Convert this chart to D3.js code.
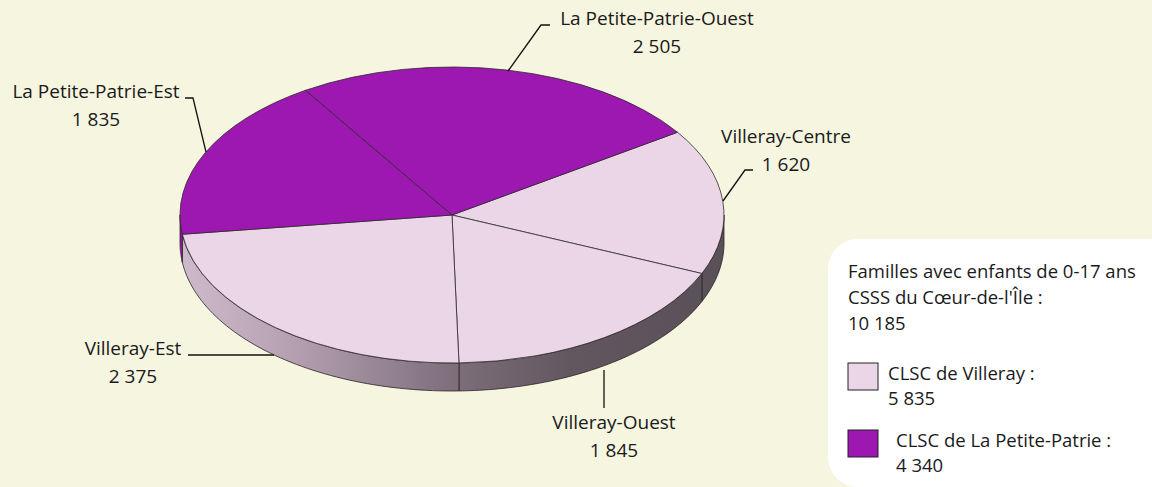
<!DOCTYPE html>
<html>
<head>
<meta charset="utf-8">
<script src="https://cdn.jsdelivr.net/npm/d3@7"></script>
<style>
  html, body { margin: 0; padding: 0; background: #f5f5e0; }
  svg { display: block; }
  text { font-family: "Open Sans", Lato, sans-serif; font-size: 19px; fill: #1a1a1a; }
  .leg text { font-size: 18.5px; }
</style>
</head>
<body>
<div id="chart"></div>
<script>
// Data
const sectors = ['Villeray-Centre', 'Villeray-Ouest', 'Villeray-Est', 'La Petite-Patrie-Est', 'La Petite-Patrie-Ouest'];
const sectorValues = [1620, 1845, 2375, 1835, 2505];
const sectorGroup = ['villeray', 'villeray', 'villeray', 'lpp', 'lpp'];
const legendTitle = ['Familles avec enfants de 0-17 ans', "CSSS du Cœur-de-l'Île :", '10 185'];
const legendGroups = ['villeray', 'lpp'];
const legendNames = ['CLSC de Villeray :', 'CLSC de La Petite-Patrie :'];
const legendValues = ['5 835', '4 340'];

const W = 1152, H = 487;
const CX = 452, CY = 215, RX = 272, RY = 148, DEPTH = 28;
const START = 56 * Math.PI / 180;

const topColor = { villeray: '#ebd6e7', lpp: '#9c18b0' };
const fmt = v => d3.format(',')(v).replace(/,/g, ' ');

const svg = d3.select('#chart').append('svg')
  .attr('width', W).attr('height', H);

svg.append('rect').attr('width', W).attr('height', H).attr('fill', '#f5f5e0');

// gradients for the side wall
const defs = svg.append('defs');
const gPink = defs.append('linearGradient').attr('id', 'sidePink')
  .attr('gradientUnits', 'userSpaceOnUse')
  .attr('x1', CX - RX).attr('x2', CX + RX).attr('y1', 0).attr('y2', 0);
[[0, '#cdbacb'], [0.18, '#b9a4b6'], [0.5, '#7e6f7b'], [0.72, '#62565f'], [1, '#5a5058']]
  .forEach(s => gPink.append('stop').attr('offset', s[0]).attr('stop-color', s[1]));
const gPurple = defs.append('linearGradient').attr('id', 'sidePurple')
  .attr('gradientUnits', 'userSpaceOnUse')
  .attr('x1', CX - RX).attr('x2', CX + RX).attr('y1', 0).attr('y2', 0);
[[0, '#9a1aae'], [1, '#5a1066']]
  .forEach(s => gPurple.append('stop').attr('offset', s[0]).attr('stop-color', s[1]));
const sideFill = { villeray: 'url(#sidePink)', lpp: 'url(#sidePurple)' };

const pie = d3.pie().sort(null).startAngle(START).endAngle(START + 2 * Math.PI);
const arcs = pie(sectorValues);

const ex = a => CX + RX * Math.sin(a);
const ey = a => CY - RY * Math.cos(a);

// side wall, only the front half (angles between 90 and 270 degrees)
const sideG = svg.append('g');
arcs.forEach((d, i) => {
  [0, 2 * Math.PI].forEach(off => {
    const a1 = Math.max(d.startAngle - off, Math.PI / 2);
    const a2 = Math.min(d.endAngle - off, 3 * Math.PI / 2);
    if (a2 <= a1) return;
    const pts = d3.range(0, 61).map(k => a1 + (a2 - a1) * k / 60);
    const line = d3.line();
    const top = pts.map(a => [ex(a), ey(a)]);
    const bot = pts.slice().reverse().map(a => [ex(a), ey(a) + DEPTH]);
    sideG.append('path')
      .attr('d', line(top.concat(bot)) + 'Z')
      .attr('fill', sideFill[sectorGroup[i]])
      .attr('stroke', '#2a2228')
      .attr('stroke-width', 0.8)
      .attr('stroke-linejoin', 'round');
  });
});

// top face: circular arcs squashed into an ellipse
const arc = d3.arc().innerRadius(0).outerRadius(RX);
svg.append('g')
  .attr('transform', `translate(${CX},${CY}) scale(1,${RY / RX})`)
  .selectAll('path')
  .data(arcs)
  .enter()
  .append('path')
  .attr('d', arc)
  .attr('fill', (d, i) => topColor[sectorGroup[i]])
  .attr('stroke', '#2e2a2e')
  .attr('stroke-width', 0.8)
  .attr('vector-effect', 'non-scaling-stroke');

// labels with leader lines
const labelPos = [
  { x: 786, y: 143, anchor: 'middle', lead: [[753, 170], [745, 170], [723, 201]] },
  { x: 614, y: 429, anchor: 'middle', lead: [[604, 408], [604, 370]] },
  { x: 133, y: 355, anchor: 'middle', lead: [[188, 355], [274, 355]] },
  { x: 96, y: 98, anchor: 'middle', lead: [[185, 98], [193, 98], [206, 152]] },
  { x: 657, y: 25, anchor: 'middle', lead: [[550, 25], [541, 25], [508, 71]] }
];
const labelG = svg.append('g');
sectors.forEach((name, i) => {
  const p = labelPos[i];
  labelG.append('path')
    .attr('d', d3.line()(p.lead))
    .attr('fill', 'none')
    .attr('stroke', '#111')
    .attr('stroke-width', 1.3);
  labelG.append('text')
    .attr('x', p.x).attr('y', p.y)
    .attr('text-anchor', p.anchor)
    .text(name);
  labelG.append('text')
    .attr('x', p.x).attr('y', p.y + 28)
    .attr('text-anchor', p.anchor)
    .text(fmt(sectorValues[i]));
});

// legend box
const legend = svg.append('g').attr('class', 'leg');
legend.append('rect')
  .attr('x', 828).attr('y', 239)
  .attr('width', 360).attr('height', 248)
  .attr('rx', 30).attr('ry', 30)
  .attr('fill', '#ffffff');
legendTitle.forEach((t, i) => {
  legend.append('text')
    .attr('x', 848).attr('y', 278 + i * 26)
    .text(t);
});
const swY = [363, 430];
const txX = [888, 896];
legendGroups.forEach((g, i) => {
  legend.append('rect')
    .attr('x', 848).attr('y', swY[i])
    .attr('width', 30).attr('height', 27)
    .attr('fill', topColor[g])
    .attr('stroke', '#222')
    .attr('stroke-width', 1);
  legend.append('text')
    .attr('x', txX[i]).attr('y', swY[i] + 17)
    .text(legendNames[i]);
  legend.append('text')
    .attr('x', txX[i]).attr('y', swY[i] + 42)
    .text(legendValues[i]);
});
</script>
</body>
</html>
